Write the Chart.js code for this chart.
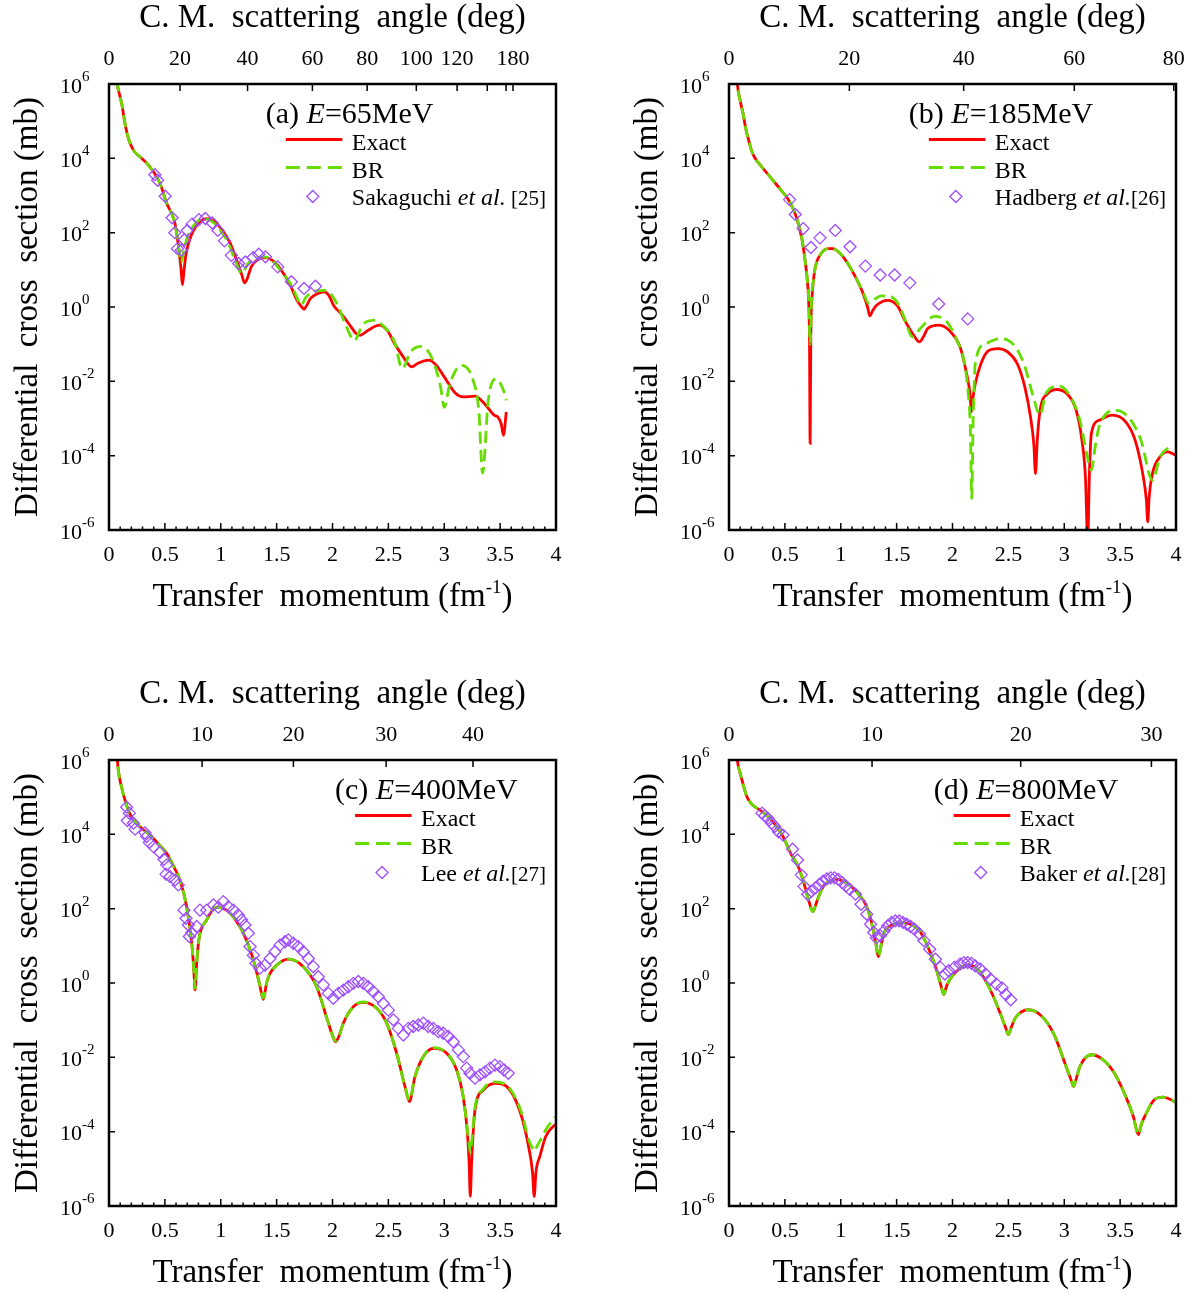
<!DOCTYPE html>
<html>
<head>
<meta charset="utf-8">
<script src="https://cdn.jsdelivr.net/npm/chart.js@4.4.1/dist/chart.umd.min.js"></script>
<style>
  html, body { margin: 0; padding: 0; background: #fff; }
  #fig { position: relative; width: 1197px; height: 1293px; overflow: hidden; }
  canvas { position: absolute; }
</style>
</head>
<body>
<div id="fig">
  <canvas id="cA" width="577" height="617" style="left:0px;top:0px"></canvas>
  <canvas id="cB" width="577" height="617" style="left:620px;top:0px"></canvas>
  <canvas id="cC" width="577" height="617" style="left:0px;top:676px"></canvas>
  <canvas id="cD" width="577" height="617" style="left:620px;top:676px"></canvas>
</div>
<script>
// --- data: transfer momentum q (fm^-1) and log10 of cross section (mb) ---

// (a) E = 65 MeV
const qExactA = [0.06, 0.075, 0.094, 0.113, 0.143, 0.173, 0.218, 0.277, 0.352, 0.456, 0.516, 0.59, 0.625, 0.645, 0.657, 0.672, 0.69, 0.742, 0.81, 0.879, 0.948, 1.016, 1.085, 1.153, 1.19, 1.212, 1.235, 1.273, 1.324, 1.393, 1.46, 1.53, 1.615, 1.683, 1.725, 1.745, 1.77, 1.803, 1.86, 1.923, 1.97, 2.01, 2.077, 2.146, 2.214, 2.248, 2.317, 2.42, 2.49, 2.556, 2.624, 2.71, 2.76, 2.864, 2.93, 3.0, 3.103, 3.17, 3.275, 3.36, 3.446, 3.48, 3.51, 3.53, 3.555];
const lgExactA = [6.6, 6.0, 5.72, 5.48, 4.94, 4.54, 4.22, 4.04, 3.82, 3.33, 2.79, 2.25, 1.55, 1.0, 0.6, 1.0, 1.44, 1.97, 2.29, 2.38, 2.29, 2.06, 1.71, 1.17, 0.85, 0.65, 0.75, 1.08, 1.26, 1.33, 1.26, 1.04, 0.63, 0.18, 0.0, -0.06, 0.05, 0.23, 0.35, 0.41, 0.3, 0.04, -0.18, -0.45, -0.72, -0.76, -0.63, -0.49, -0.63, -0.99, -1.30, -1.61, -1.52, -1.43, -1.57, -1.88, -2.33, -2.42, -2.40, -2.60, -2.91, -2.96, -3.15, -3.45, -2.82];
const qBrA = [0.06, 0.075, 0.094, 0.113, 0.143, 0.173, 0.218, 0.277, 0.352, 0.456, 0.516, 0.585, 0.615, 0.645, 0.675, 0.71, 0.76, 0.83, 0.88, 0.94, 1.0, 1.07, 1.13, 1.187, 1.24, 1.3, 1.39, 1.46, 1.53, 1.63, 1.69, 1.718, 1.76, 1.83, 1.94, 2.04, 2.12, 2.197, 2.25, 2.3, 2.37, 2.45, 2.556, 2.624, 2.7, 2.795, 2.898, 2.967, 3.0, 3.05, 3.155, 3.258, 3.309, 3.343, 3.394, 3.463, 3.53, 3.555];
const lgBrA = [6.6, 6.0, 5.72, 5.48, 4.94, 4.54, 4.22, 4.04, 3.82, 3.33, 2.79, 2.3, 1.8, 1.2, 1.6, 1.95, 2.2, 2.36, 2.36, 2.26, 2.05, 1.7, 1.25, 0.9, 1.15, 1.3, 1.35, 1.25, 1.0, 0.6, 0.2, 0.05, 0.25, 0.42, 0.45, 0.09, -0.5, -0.9, -0.6, -0.4, -0.36, -0.5, -0.95, -1.66, -1.2, -1.06, -1.43, -2.15, -2.7, -2.07, -1.57, -1.97, -2.78, -4.47, -2.51, -1.93, -2.24, -2.51];
const qDataA = [0.41, 0.435, 0.503, 0.565, 0.589, 0.613, 0.647, 0.674, 0.70, 0.743, 0.804, 0.862, 0.924, 0.975, 1.033, 1.095, 1.16, 1.22, 1.29, 1.34, 1.40, 1.51, 1.632, 1.745, 1.848];
const lgDataA = [3.56, 3.41, 2.98, 2.40, 2.0, 1.57, 1.53, 1.81, 2.06, 2.23, 2.35, 2.38, 2.26, 2.06, 1.78, 1.39, 1.17, 1.21, 1.33, 1.42, 1.35, 1.08, 0.68, 0.5, 0.56];
const angLabelsA = ['0', '20', '40', '60', '80', '100', '120', '', '', '180'];
const angQA = [0, 0.635, 1.24, 1.82, 2.31, 2.75, 3.115, 3.385, 3.553, 3.615];

// (b) E = 185 MeV
const qExactB = [0.06, 0.075, 0.1, 0.126, 0.15, 0.177, 0.2, 0.228, 0.296, 0.382, 0.467, 0.535, 0.603, 0.654, 0.688, 0.70, 0.712, 0.72, 0.726, 0.732, 0.742, 0.755, 0.773, 0.825, 0.893, 0.927, 0.995, 1.063, 1.131, 1.2, 1.24, 1.26, 1.285, 1.318, 1.42, 1.506, 1.574, 1.65, 1.704, 1.74, 1.778, 1.88, 1.983, 2.068, 2.126, 2.155, 2.17, 2.185, 2.204, 2.255, 2.324, 2.409, 2.494, 2.579, 2.647, 2.698, 2.728, 2.743, 2.758, 2.784, 2.852, 2.93, 3.022, 3.107, 3.158, 3.19, 3.21, 3.225, 3.243, 3.312, 3.43, 3.55, 3.634, 3.702, 3.735, 3.747, 3.76, 3.789, 3.857, 3.925, 4.0];
const lgExactB = [6.8, 6.0, 5.55, 5.2, 4.8, 4.48, 4.22, 4.03, 3.76, 3.45, 3.14, 2.87, 2.42, 1.8, 1.08, 0.75, 0.2, -0.8, -3.67, -0.8, 0.2, 0.7, 1.08, 1.44, 1.57, 1.57, 1.44, 1.17, 0.81, 0.36, 0.0, -0.24, -0.1, 0.04, 0.18, 0.04, -0.36, -0.75, -0.94, -0.8, -0.58, -0.49, -0.67, -1.08, -1.79, -2.3, -2.82, -2.4, -2.06, -1.52, -1.17, -1.12, -1.21, -1.52, -2.15, -2.96, -3.7, -4.48, -3.6, -2.78, -2.33, -2.22, -2.33, -2.78, -3.58, -4.6, -6.3, -4.5, -3.4, -3.05, -2.91, -3.09, -3.58, -4.48, -5.2, -5.78, -5.1, -4.48, -4.03, -3.9, -3.99];
const qBrB = [0.06, 0.075, 0.1, 0.126, 0.15, 0.177, 0.2, 0.228, 0.296, 0.382, 0.467, 0.535, 0.603, 0.654, 0.688, 0.70, 0.712, 0.726, 0.74, 0.755, 0.773, 0.825, 0.893, 0.927, 0.995, 1.063, 1.131, 1.2, 1.25, 1.3, 1.36, 1.42, 1.5, 1.57, 1.64, 1.72, 1.84, 1.95, 2.04, 2.102, 2.14, 2.16, 2.172, 2.185, 2.204, 2.29, 2.43, 2.562, 2.647, 2.715, 2.784, 2.835, 2.954, 3.056, 3.14, 3.2, 3.243, 3.28, 3.312, 3.465, 3.584, 3.686, 3.789, 3.857, 3.95];
const lgBrB = [6.8, 6.0, 5.55, 5.2, 4.8, 4.48, 4.22, 4.03, 3.76, 3.45, 3.14, 2.87, 2.42, 1.8, 1.08, 0.75, 0.3, -1.0, 0.3, 0.7, 1.08, 1.44, 1.57, 1.57, 1.44, 1.17, 0.81, 0.4, 0.1, 0.2, 0.3, 0.3, 0.15, -0.3, -0.8, -0.55, -0.25, -0.4, -0.9, -1.43, -2.3, -3.3, -5.15, -3.0, -1.52, -1.0, -0.85, -1.07, -1.6, -2.33, -2.9, -2.33, -2.13, -2.42, -3.05, -3.94, -4.39, -3.7, -3.22, -2.78, -3.0, -3.58, -4.66, -4.03, -3.75];
const qDataB = [0.542, 0.593, 0.664, 0.733, 0.814, 0.951, 1.083, 1.22, 1.353, 1.482, 1.618, 1.877, 2.136];
const lgDataB = [2.89, 2.49, 2.11, 1.6, 1.86, 2.06, 1.62, 1.1, 0.86, 0.86, 0.65, 0.08, -0.32];
const angLabelsB = ['0', '20', '40', '60', '80'];
const angQB = [0, 1.077, 2.1, 3.09, 3.98];

// (c) E = 400 MeV
const qExactC = [0.06, 0.075, 0.083, 0.11, 0.143, 0.18, 0.218, 0.29, 0.367, 0.44, 0.516, 0.585, 0.635, 0.695, 0.74, 0.758, 0.77, 0.782, 0.8, 0.874, 0.964, 1.083, 1.202, 1.292, 1.345, 1.381, 1.41, 1.441, 1.5, 1.605, 1.739, 1.858, 1.963, 2.005, 2.028, 2.055, 2.097, 2.186, 2.276, 2.395, 2.485, 2.574, 2.649, 2.688, 2.738, 2.813, 2.902, 3.022, 3.111, 3.17, 3.205, 3.222, 3.233, 3.245, 3.275, 3.35, 3.454, 3.588, 3.693, 3.754, 3.79, 3.805, 3.82, 3.856, 3.908, 3.993];
const lgExactC = [6.8, 6.0, 5.73, 5.3, 4.92, 4.6, 4.39, 4.17, 3.98, 3.75, 3.49, 3.1, 2.77, 2.05, 1.07, 0.4, -0.19, 0.4, 1.07, 1.7, 2.04, 1.88, 1.34, 0.62, 0.0, -0.44, 0.0, 0.26, 0.48, 0.64, 0.44, -0.1, -1.08, -1.45, -1.58, -1.45, -1.08, -0.64, -0.52, -0.68, -1.08, -1.89, -2.79, -3.19, -2.52, -1.98, -1.76, -1.89, -2.34, -3.06, -3.95, -4.8, -5.74, -4.8, -3.42, -2.88, -2.7, -2.88, -3.6, -4.39, -5.1, -5.74, -5.1, -4.66, -4.13, -3.8];
const qBrC = qExactC.slice();
const lgBrC = [6.8, 6.0, 5.73, 5.3, 4.92, 4.6, 4.39, 4.17, 3.98, 3.75, 3.49, 3.1, 2.77, 2.05, 1.07, 0.4, -0.15, 0.4, 1.07, 1.7, 2.04, 1.88, 1.34, 0.62, 0.0, -0.4, 0.0, 0.26, 0.48, 0.65, 0.44, -0.1, -1.08, -1.45, -1.56, -1.45, -1.08, -0.64, -0.51, -0.68, -1.08, -1.89, -2.79, -3.15, -2.52, -1.98, -1.74, -1.89, -2.34, -3.06, -3.9, -4.3, -4.57, -4.3, -3.35, -2.85, -2.66, -2.85, -3.5, -4.2, -4.45, -4.53, -4.45, -4.25, -3.95, -3.6];
const qDataC = [0.158, 0.164, 0.182, 0.218, 0.233, 0.322, 0.337, 0.361, 0.397, 0.456, 0.492, 0.51, 0.516, 0.546, 0.591, 0.62, 0.671, 0.689, 0.71, 0.719, 0.74, 0.785, 0.814, 0.874, 0.934, 0.978, 1.023, 1.068, 1.113, 1.157, 1.187, 1.217, 1.247, 1.262, 1.292, 1.315, 1.351, 1.396, 1.441, 1.485, 1.53, 1.575, 1.605, 1.649, 1.694, 1.739, 1.784, 1.828, 1.873, 1.918, 1.963, 2.007, 2.052, 2.097, 2.142, 2.186, 2.231, 2.276, 2.32, 2.365, 2.41, 2.455, 2.5, 2.544, 2.589, 2.634, 2.678, 2.723, 2.768, 2.813, 2.857, 2.902, 2.947, 2.991, 3.036, 3.081, 3.126, 3.17, 3.2, 3.23, 3.275, 3.32, 3.365, 3.409, 3.454, 3.499, 3.535, 3.573];
const lgDataC = [4.73, 4.37, 4.57, 4.3, 4.14, 4.04, 3.94, 3.78, 3.67, 3.51, 3.33, 2.93, 3.18, 2.86, 2.77, 2.64, 1.96, 1.74, 1.56, 1.25, 1.35, 1.52, 1.96, 1.96, 2.1, 2.04, 2.19, 2.05, 1.96, 1.83, 1.7, 1.56, 1.34, 0.98, 0.75, 0.53, 0.4, 0.48, 0.66, 0.84, 1.02, 1.11, 1.16, 1.07, 0.98, 0.84, 0.66, 0.44, 0.17, -0.05, -0.28, -0.41, -0.28, -0.19, -0.1, -0.01, 0.04, -0.01, -0.1, -0.23, -0.37, -0.55, -0.73, -0.99, -1.22, -1.4, -1.22, -1.17, -1.13, -1.08, -1.17, -1.22, -1.31, -1.35, -1.44, -1.58, -1.8, -1.98, -2.29, -2.43, -2.56, -2.47, -2.39, -2.29, -2.21, -2.25, -2.34, -2.43];
const angLabelsC = ['0', '10', '20', '30', '40'];
const angQC = [0, 0.833, 1.65, 2.48, 3.257];

// (d) E = 800 MeV
const qExactD = [0.06, 0.075, 0.095, 0.116, 0.16, 0.211, 0.279, 0.348, 0.416, 0.484, 0.552, 0.62, 0.671, 0.716, 0.75, 0.79, 0.842, 0.893, 0.961, 1.029, 1.097, 1.165, 1.233, 1.284, 1.315, 1.336, 1.36, 1.387, 1.455, 1.557, 1.642, 1.71, 1.779, 1.847, 1.895, 1.922, 1.945, 1.966, 2.034, 2.136, 2.221, 2.29, 2.358, 2.426, 2.475, 2.5, 2.525, 2.562, 2.681, 2.801, 2.903, 3.005, 3.06, 3.083, 3.105, 3.141, 3.244, 3.346, 3.448, 3.55, 3.618, 3.663, 3.69, 3.72, 3.806, 3.884, 3.942, 4.0];
const lgExactD = [6.8, 6.0, 5.7, 5.46, 5.01, 4.79, 4.65, 4.48, 4.25, 3.94, 3.49, 3.13, 2.68, 2.19, 1.92, 2.23, 2.59, 2.73, 2.79, 2.73, 2.59, 2.37, 2.05, 1.52, 1.05, 0.71, 1.0, 1.34, 1.56, 1.62, 1.56, 1.38, 0.98, 0.44, -0.05, -0.31, -0.1, 0.04, 0.31, 0.48, 0.39, 0.09, -0.31, -0.81, -1.2, -1.39, -1.2, -0.94, -0.72, -0.9, -1.35, -2.15, -2.6, -2.78, -2.6, -2.24, -1.93, -2.06, -2.42, -3.05, -3.59, -4.08, -3.8, -3.59, -3.14, -3.07, -3.12, -3.22];
const qBrD = qExactD.slice();
const lgBrD = lgExactD.slice();
const qDataD = [0.296, 0.32, 0.348, 0.382, 0.409, 0.443, 0.484, 0.569, 0.613, 0.647, 0.671, 0.705, 0.739, 0.774, 0.808, 0.842, 0.876, 0.91, 0.944, 0.978, 1.012, 1.046, 1.08, 1.131, 1.182, 1.233, 1.267, 1.295, 1.318, 1.353, 1.387, 1.421, 1.455, 1.489, 1.523, 1.557, 1.591, 1.625, 1.659, 1.704, 1.744, 1.796, 1.847, 1.891, 1.932, 1.966, 2.017, 2.068, 2.102, 2.136, 2.17, 2.204, 2.249, 2.296, 2.341, 2.392, 2.443, 2.477, 2.521];
const lgDataD = [4.57, 4.5, 4.43, 4.3, 4.21, 4.07, 3.98, 3.6, 3.31, 2.91, 2.6, 2.38, 2.47, 2.56, 2.65, 2.74, 2.8, 2.83, 2.83, 2.79, 2.7, 2.61, 2.52, 2.39, 2.12, 1.85, 1.58, 1.36, 1.22, 1.27, 1.4, 1.54, 1.63, 1.67, 1.67, 1.63, 1.58, 1.52, 1.45, 1.32, 1.14, 0.91, 0.64, 0.42, 0.24, 0.33, 0.42, 0.51, 0.55, 0.55, 0.53, 0.46, 0.37, 0.24, 0.1, -0.03, -0.13, -0.31, -0.45];
const angLabelsD = ['0', '10', '20', '30'];
const angQD = [0, 1.28, 2.61, 3.78];

const yExponents = [6, 4, 2, 0, -2, -4, -6];

// --- styling ---
const FAMILY = '"Liberation Serif", "Times New Roman", serif';
const RED = '#ff0000';
const GREEN = '#66dd00';
const PURPLE = '#9d4dff';
const font = (size, italic) => (italic ? 'italic ' : '') + size + 'px ' + FAMILY;

function pts(q, lg) {
  return q.map((v, i) => ({ x: v, y: Math.pow(10, lg[i]) }));
}

function richWidth(ctx, parts) {
  let w = 0;
  parts.forEach(p => { ctx.font = p.font; w += ctx.measureText(p.text).width; });
  return w;
}

function drawRich(ctx, parts, x, y, align) {
  const w = richWidth(ctx, parts);
  let cx = align === 'center' ? x - w / 2 : align === 'right' ? x - w : x;
  ctx.textAlign = 'left';
  ctx.textBaseline = 'alphabetic';
  parts.forEach(p => {
    ctx.font = p.font;
    ctx.fillText(p.text, cx, y + (p.dy || 0));
    cx += ctx.measureText(p.text).width;
  });
}

// frame, inward ticks, y labels, titles and legend
function decor(panel) {
  return {
    id: 'decor',
    afterDraw(chart) {
      const { ctx, chartArea: a, scales } = chart;
      ctx.save();
      ctx.fillStyle = '#000';
      ctx.strokeStyle = '#000';

      // ticks
      ctx.lineWidth = 1.5;
      ctx.beginPath();
      for (let i = 1; i < 40; i++) {
        const x = scales.x.getPixelForValue(i / 10);
        const len = i % 5 === 0 ? 7 : 3.5;
        ctx.moveTo(x, a.bottom);
        ctx.lineTo(x, a.bottom - len);
      }
      panel.angQ.forEach(q => {
        if (q <= 0) return;
        const x = scales.x2.getPixelForValue(q);
        ctx.moveTo(x, a.top);
        ctx.lineTo(x, a.top + 7);
      });
      yExponents.forEach(e => {
        const y = scales.y.getPixelForValue(Math.pow(10, e));
        ctx.moveTo(a.left, y);
        ctx.lineTo(a.left + 6, y);
      });
      ctx.stroke();

      ctx.lineWidth = 2.5;
      ctx.strokeRect(a.left, a.top, a.right - a.left, a.bottom - a.top);

      // y tick labels 10^n
      yExponents.forEach(e => {
        const y = scales.y.getPixelForValue(Math.pow(10, e));
        drawRich(ctx, [
          { text: '10', font: font(22), dy: 8.5 },
          { text: String(e), font: font(15), dy: -3 }
        ], a.left - 49, y, 'left');
      });

      // axis titles
      const cx = (a.left + a.right) / 2;
      const cy = (a.top + a.bottom) / 2;
      drawRich(ctx, [{ text: 'C. M.  scattering  angle (deg)', font: font(33) }], cx, 27, 'center');
      drawRich(ctx, [
        { text: 'Transfer  momentum (fm', font: font(33) },
        { text: '-1', font: font(19), dy: -13 },
        { text: ')', font: font(33) }
      ], cx, 606, 'center');
      ctx.save();
      ctx.translate(37, cy);
      ctx.rotate(-Math.PI / 2);
      drawRich(ctx, [{ text: 'Differential  cross  section (mb)', font: font(33) }], 0, 0, 'center');
      ctx.restore();

      // legend
      const refParts = [
        { text: panel.author, font: font(24) },
        { text: 'et al.', font: font(24, true) },
        { text: panel.ref, font: font(21) }
      ];
      ctx.font = font(24);
      const maxW = Math.max(ctx.measureText('Exact').width, richWidth(ctx, refParts));
      const tx = 546 - maxW;
      drawRich(ctx, [
        { text: panel.tag + ' ', font: font(30) },
        { text: 'E', font: font(30, true) },
        { text: panel.energy, font: font(30) }
      ], tx - 86, 123, 'left');
      const rows = [149.5, 177.5, 205];
      drawRich(ctx, [{ text: 'Exact', font: font(24) }], tx, rows[0], 'left');
      drawRich(ctx, [{ text: 'BR', font: font(24) }], tx, rows[1], 'left');
      drawRich(ctx, refParts, tx, rows[2], 'left');

      ctx.lineWidth = 2.8;
      ctx.strokeStyle = RED;
      ctx.beginPath();
      ctx.moveTo(tx - 66, rows[0] - 10);
      ctx.lineTo(tx - 9.5, rows[0] - 10);
      ctx.stroke();
      ctx.strokeStyle = GREEN;
      ctx.setLineDash([14, 7]);
      ctx.beginPath();
      ctx.moveTo(tx - 66, rows[1] - 10);
      ctx.lineTo(tx - 9.5, rows[1] - 10);
      ctx.stroke();
      ctx.setLineDash([]);
      ctx.strokeStyle = PURPLE;
      ctx.lineWidth = 1.3;
      const dx = tx - 39, dy = rows[2] - 8.5, r = 6;
      ctx.beginPath();
      ctx.moveTo(dx, dy - r);
      ctx.lineTo(dx + r, dy);
      ctx.lineTo(dx, dy + r);
      ctx.lineTo(dx - r, dy);
      ctx.closePath();
      ctx.stroke();

      ctx.restore();
    }
  };
}

function makePanel(panel) {
  const tickFont = { family: FAMILY, size: 22 };
  new Chart(document.getElementById(panel.canvas), {
    type: 'line',
    data: {
      datasets: [
        {
          label: panel.author.trim(),
          data: pts(panel.qData, panel.lgData),
          showLine: false,
          pointStyle: 'rectRot',
          pointRadius: 6,
          pointBorderWidth: 1.3,
          borderColor: PURPLE,
          pointBorderColor: PURPLE,
          pointBackgroundColor: 'rgba(0,0,0,0)',
          order: 0
        },
        {
          label: 'BR',
          data: pts(panel.qBr, panel.lgBr),
          borderColor: GREEN,
          borderWidth: 2.8,
          borderDash: [12, 6],
          pointRadius: 0,
          cubicInterpolationMode: 'monotone',
          order: 1
        },
        {
          label: 'Exact',
          data: pts(panel.qExact, panel.lgExact),
          borderColor: RED,
          borderWidth: 2.8,
          pointRadius: 0,
          cubicInterpolationMode: 'monotone',
          order: 2
        }
      ]
    },
    options: {
      responsive: false,
      animation: false,
      devicePixelRatio: 1,
      layout: { padding: { left: 109, right: 21, top: 0, bottom: 0 } },
      plugins: { legend: { display: false }, tooltip: { enabled: false } },
      scales: {
        x: {
          type: 'linear', position: 'bottom', min: 0, max: 4,
          afterFit: s => { s.height = 87; },
          grid: { display: false, drawTicks: false },
          border: { display: false },
          ticks: {
            stepSize: 0.5, padding: 12, color: '#000', font: tickFont,
            maxRotation: 0, autoSkip: false,
            callback: v => String(v)
          }
        },
        x2: {
          type: 'linear', position: 'top', min: 0, max: 4,
          afterFit: s => { s.height = 84; },
          afterBuildTicks: s => { s.ticks = panel.angQ.map(v => ({ value: v })); },
          grid: { display: false, drawTicks: false },
          border: { display: false },
          ticks: {
            padding: 12, color: '#000', font: tickFont,
            maxRotation: 0, autoSkip: false,
            callback: (v, i) => panel.angLabels[i]
          }
        },
        y: { type: 'logarithmic', min: 1e-6, max: 1e6, display: false }
      }
    },
    plugins: [decor(panel)]
  });
}

makePanel({
  canvas: 'cA', tag: '(a)', energy: '=65MeV', author: 'Sakaguchi ', ref: ' [25]',
  qExact: qExactA, lgExact: lgExactA, qBr: qBrA, lgBr: lgBrA, qData: qDataA, lgData: lgDataA,
  angLabels: angLabelsA, angQ: angQA
});
makePanel({
  canvas: 'cB', tag: '(b)', energy: '=185MeV', author: 'Hadberg ', ref: '[26]',
  qExact: qExactB, lgExact: lgExactB, qBr: qBrB, lgBr: lgBrB, qData: qDataB, lgData: lgDataB,
  angLabels: angLabelsB, angQ: angQB
});
makePanel({
  canvas: 'cC', tag: '(c)', energy: '=400MeV', author: 'Lee ', ref: '[27]',
  qExact: qExactC, lgExact: lgExactC, qBr: qBrC, lgBr: lgBrC, qData: qDataC, lgData: lgDataC,
  angLabels: angLabelsC, angQ: angQC
});
makePanel({
  canvas: 'cD', tag: '(d)', energy: '=800MeV', author: 'Baker ', ref: '[28]',
  qExact: qExactD, lgExact: lgExactD, qBr: qBrD, lgBr: lgBrD, qData: qDataD, lgData: lgDataD,
  angLabels: angLabelsD, angQ: angQD
});
</script>
</body>
</html>
